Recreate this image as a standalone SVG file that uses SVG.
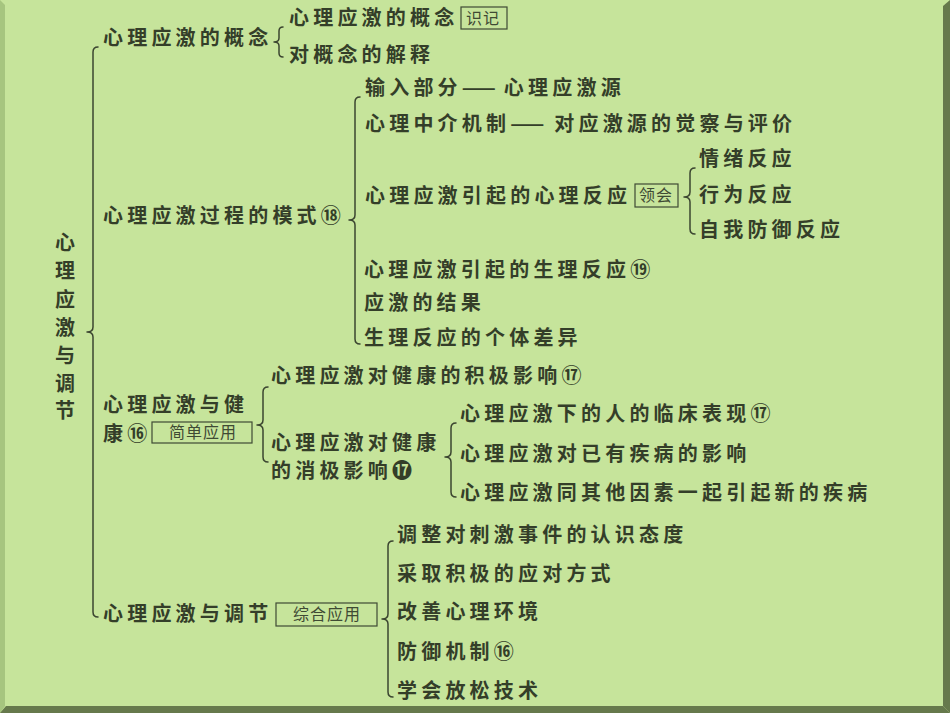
<svg xmlns="http://www.w3.org/2000/svg" width="950" height="713" viewBox="0 0 950 713">
<style>
.t{font-family:"Noto Sans CJK SC","Noto Sans CJK JP",sans-serif;font-size:20px;font-weight:700;fill:#343e29;letter-spacing:4.2px}
.d{letter-spacing:0}
.b{font-family:"Noto Sans CJK SC","Noto Sans CJK JP",sans-serif;font-size:16px;font-weight:400;fill:#3f4a34;letter-spacing:1px}
.bx{fill:none;stroke:#3f4a34;stroke-width:1.2}
.br{fill:none;stroke:#3b4530;stroke-width:1.5;stroke-linejoin:round;stroke-linecap:round}
</style>
<rect x="0" y="0" width="950" height="713" fill="#c6e49b"/>
<polygon points="0,0 5,5 5,706 0,713" fill="#a6c57f"/>
<polygon points="950,0 943,6 943,706 950,713" fill="#66794c"/>
<polygon points="0,713 6,706 943,706 950,713" fill="#66794c"/>
<g id="connectors">
<path class="br" d="M98,47 Q93,47 93,52 L93,327 Q93,332 87,332 Q93,332 93,337 L93,612 Q93,617 98,617"/>
<path class="br" d="M283,27 Q279,27 279,31 L279,38 Q279,42 274,42 Q279,42 279,46 L279,53 Q279,57 283,57"/>
<path class="br" d="M360,97 Q355,97 355,102 L355,215 Q355,220 349,220 Q355,220 355,225 L355,339 Q355,344 360,344"/>
<path class="br" d="M695,168 Q690,168 690,173 L690,192 Q690,197 684,197 Q690,197 690,202 L690,229 Q690,234 695,234"/>
<path class="br" d="M268,387 Q263,387 263,392 L263,420 Q263,425 257,425 Q263,425 263,430 L263,457 Q263,462 268,462"/>
<path class="br" d="M456,423 Q451,423 451,428 L451,452 Q451,457 445,457 Q451,457 451,462 L451,492 Q451,497 456,497"/>
<path class="br" d="M393,541 Q388,541 388,546 L388,614 Q388,619 382,619 Q388,619 388,624 L388,692 Q388,697 393,697"/>
</g>
<g id="root">
<text class="t" x="55" y="250">心</text>
<text class="t" x="55" y="278">理</text>
<text class="t" x="55" y="307">应</text>
<text class="t" x="55" y="335">激</text>
<text class="t" x="55" y="363">与</text>
<text class="t" x="55" y="391">调</text>
<text class="t" x="55" y="418">节</text>
</g>
<g id="n1"><text class="t" x="103" y="45">心理应激的概念</text></g>
<g id="n1a"><text class="t" x="289" y="25">心理应激的概念</text><rect class="bx" x="461" y="7" width="46" height="22"/><text class="b" x="466" y="24">识记</text></g>
<g id="n1b"><text class="t" x="289" y="62">对概念的解释</text></g>
<g id="n2"><text class="t" x="103" y="223">心理应激过程的模式⑱</text></g>
<g id="n2a"><text class="t" x="365" y="95">输入部分<tspan class="d">——</tspan><tspan dx="8">心理应激源</tspan></text></g>
<g id="n2b"><text class="t" x="365" y="131">心理中介机制<tspan class="d">——</tspan><tspan dx="10">对应激源的觉察与评价</tspan></text></g>
<g id="n2c"><text class="t" x="365" y="203">心理应激引起的心理反应</text><rect class="bx" x="635" y="184" width="43" height="23"/><text class="b" x="639" y="201">领会</text></g>
<g id="n2c1"><text class="t" x="699" y="166">情绪反应</text></g>
<g id="n2c2"><text class="t" x="699" y="202">行为反应</text></g>
<g id="n2c3"><text class="t" x="699" y="237">自我防御反应</text></g>
<g id="n2d"><text class="t" x="364" y="277">心理应激引起的生理反应⑲</text></g>
<g id="n2e"><text class="t" x="364" y="310">应激的结果</text></g>
<g id="n2f"><text class="t" x="364" y="345">生理反应的个体差异</text></g>
<g id="n3"><text class="t" x="103" y="412">心理应激与健</text><text class="t" x="103" y="441">康⑯</text><rect class="bx" x="152" y="422" width="100" height="21"/><text class="b" x="169" y="438">简单应用</text></g>
<g id="n3a"><text class="t" x="271" y="383">心理应激对健康的积极影响⑰</text></g>
<g id="n3b"><text class="t" x="271" y="450">心理应激对健康</text><text class="t" x="271" y="478">的消极影响⓱</text></g>
<g id="n3b1"><text class="t" x="460" y="421">心理应激下的人的临床表现⑰</text></g>
<g id="n3b2"><text class="t" x="460" y="461">心理应激对已有疾病的影响</text></g>
<g id="n3b3"><text class="t" x="460" y="500">心理应激同其他因素一起引起新的疾病</text></g>
<g id="n4"><text class="t" x="103" y="621">心理应激与调节</text><rect class="bx" x="276" y="603" width="101" height="23"/><text class="b" x="293" y="620">综合应用</text></g>
<g id="n4a"><text class="t" x="397" y="542">调整对刺激事件的认识态度</text></g>
<g id="n4b"><text class="t" x="397" y="581">采取积极的应对方式</text></g>
<g id="n4c"><text class="t" x="397" y="619">改善心理环境</text></g>
<g id="n4d"><text class="t" x="397" y="659">防御机制⑯</text></g>
<g id="n4e"><text class="t" x="397" y="698">学会放松技术</text></g>
</svg>
